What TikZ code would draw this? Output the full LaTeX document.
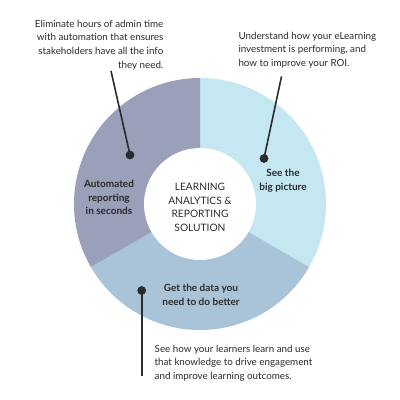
\documentclass[tikz,border=0pt]{standalone}
\usepackage{fontspec}
\setmainfont{Lato}
\definecolor{segpurple}{HTML}{9A9FBA}
\definecolor{seglight}{HTML}{C4E7F2}
\definecolor{segmid}{HTML}{A9C4D9}
\definecolor{ink}{HTML}{2B2B2B}
\tikzset{
  desc/.style={font=\fontsize{9.8}{13.6}\selectfont, text=ink, inner sep=0pt},
  seglabel/.style={font=\fontsize{10}{13.4}\selectfont\bfseries, text=ink, inner sep=0pt, align=center},
  pin/.style={circle, fill=ink, inner sep=0pt, minimum size=8.8pt},
  pinline/.style={draw=ink, line width=1.6pt},
}
\begin{document}
\begin{tikzpicture}[x=1pt,y=1pt]
\useasboundingbox (0,0) rectangle (400,400);
\fill[white] (0,0) rectangle (400,400);
\coordinate (c) at (200,196);
% ring segments
\fill[seglight] (c) -- ++(90:126) arc[start angle=90,end angle=-30,radius=126] -- cycle;
\fill[segmid] (c) -- ++(-30:126) arc[start angle=-30,end angle=-150,radius=126] -- cycle;
\fill[segpurple] (c) -- ++(210:126) arc[start angle=210,end angle=90,radius=126] -- cycle;
\node[circle, fill=white, minimum size=112pt, inner sep=0pt] (hub) at (c) {};
\node[font=\fontsize{10.2}{13.4}\selectfont, text=ink, align=center, inner sep=0pt] (title) at (200,192.7) {LEARNING\\ANALYTICS \&\\REPORTING\\SOLUTION};
% segment labels
\node[seglabel] (lauto) at (109,202.5) {Automated\\reporting\\in seconds};
\node[seglabel] (lsee) at (283,219.3) {See the\\big picture};
\node[seglabel] (lget) at (201,105) {Get the data you\\need to do better};
% descriptions
\node[desc, align=right, anchor=east] (dtl) at (163.5,355) {Eliminate hours of admin time\\with automation that ensures\\stakeholders have all the info\\they need.};
\node[desc, align=left, anchor=west] (dtr) at (238.3,350) {Understand how your eLearning\\investment is performing, and\\how to improve your ROI.};
\node[desc, align=left, anchor=west] (dbot) at (154.5,37) {See how your learners learn and use\\that knowledge to drive engagement\\and improve learning outcomes.};
% pins
\coordinate (tlend) at (111,329);
\coordinate (trend) at (281.5,323.5);
\coordinate (botend) at (141.7,23.5);
\node[pin] (ptl) at (130,245) {};
\node[pin] (ptr) at (264,241.5) {};
\node[pin] (pbot) at (141.7,109.5) {};
\draw[pinline] (tlend) -- (ptl.center);
\draw[pinline] (trend) -- (ptr.center);
\draw[pinline] (pbot.center) -- (botend);
\end{tikzpicture}
\end{document}
